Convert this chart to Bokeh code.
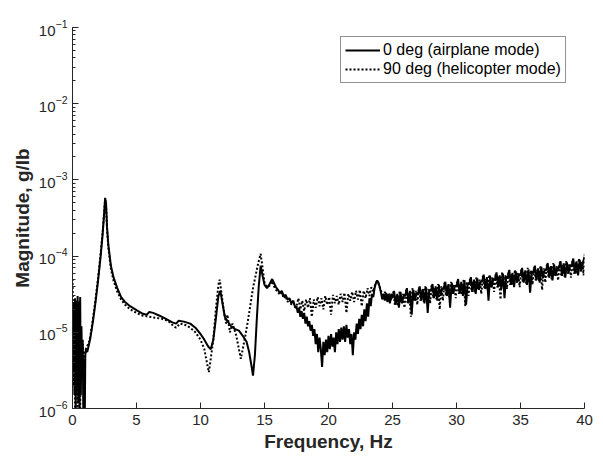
from bokeh.plotting import figure
from bokeh.models import Legend, LegendItem, FixedTicker
from bokeh.embed import file_html
from bokeh.resources import INLINE

# ---------------- data ----------------
# 0 deg (airplane mode), solid
air_f_low = [0.00, 0.05, 0.10, 0.15, 0.20, 0.25, 0.30, 0.35, 0.40, 0.45, 0.50, 0.55, 0.60, 0.65,
             0.70, 0.75, 0.80, 0.85, 0.90, 0.95, 1.00, 1.05, 1.15, 1.25, 1.40, 1.60, 1.80, 2.00,
             2.20, 2.35, 2.45, 2.55, 2.62, 2.70, 2.80, 3.00, 3.20, 3.50, 3.80, 4.10, 4.50, 5.00,
             5.50, 5.80, 6.00, 6.30, 6.80, 7.30, 7.80, 8.10, 8.30, 8.70, 9.20, 9.60, 10.00, 10.30,
             10.60, 10.80, 11.00, 11.20, 11.40, 11.55, 11.70, 11.90, 12.10, 12.40, 12.70, 13.00,
             13.30, 13.60, 13.80, 14.00, 14.10, 14.25, 14.40, 14.55, 14.70, 14.85]
air_m_low = [2.0e-5, 3e-6, 2.5e-5, 1.5e-6, 2.8e-5, 8e-7, 2.6e-5, 2e-6, 3.0e-5, 1.2e-6, 2.5e-5, 5e-7,
             2.9e-5, 1.5e-6, 1.2e-5, 3e-6, 8e-6, 6e-7, 4.5e-6, 5e-7, 5e-6, 6e-6, 5.5e-6, 6.5e-6,
             8.5e-6, 1.4e-5, 2.5e-5, 4.8e-5, 1.0e-4, 1.9e-4, 3.2e-4, 5.8e-4, 5.0e-4, 2.4e-4,
             1.4e-4, 7.5e-5, 5.3e-5, 3.8e-5, 2.9e-5, 2.5e-5, 2.2e-5, 1.95e-5, 1.75e-5, 1.7e-5,
             1.85e-5, 1.8e-5, 1.65e-5, 1.5e-5, 1.35e-5, 1.3e-5, 1.42e-5, 1.38e-5, 1.3e-5, 1.15e-5,
             9.5e-6, 8e-6, 6.5e-6, 6.0e-6, 8e-6, 1.5e-5, 3.0e-5, 3.5e-5, 2.5e-5, 1.6e-5, 1.4e-5,
             1.2e-5, 1.1e-5, 1.05e-5, 9e-6, 7.5e-6, 5.5e-6, 3.5e-6, 2.7e-6, 5e-6, 1.5e-5, 4e-5,
             7.5e-5, 5.5e-5]
air_f_mid = [15.00, 15.20, 15.40, 15.60, 15.75, 15.90, 16.05, 16.20, 16.35, 16.50, 16.65, 16.80,
             16.95, 17.10, 17.25, 17.40, 17.50, 17.60, 17.70, 17.80, 17.90, 18.00, 18.10, 18.20,
             18.30, 18.40, 18.50, 18.60, 18.70, 18.80, 18.90, 19.00, 19.10, 19.20, 19.30, 19.40,
             19.50, 19.60, 19.70, 19.80, 19.90, 20.00, 20.10, 20.20, 20.30, 20.40, 20.50, 20.60,
             20.70, 20.80, 20.90, 21.00, 21.10, 21.20, 21.30, 21.40, 21.50, 21.60, 21.70, 21.80,
             21.90, 22.00, 22.10, 22.20, 22.30, 22.40, 22.50, 22.60, 22.70, 22.80, 22.90, 23.00,
             23.10, 23.20, 23.30, 23.40, 23.50, 23.60, 23.70, 23.80, 23.90, 24.00, 24.10, 24.20,
             24.30, 24.40, 24.50, 24.60, 24.70, 24.80, 24.90]
air_m_mid = [4.2e-5, 3.8e-5, 4.3e-5, 5.0e-5, 4.4e-5, 3.9e-5, 3.6e-5, 3.3e-5, 3.5e-5, 3.0e-5,
             3.1e-5, 2.7e-5, 2.8e-5, 2.4e-5, 2.6e-5, 2.1e-5, 2.2e-5, 1.8e-5, 2.1e-5, 1.6e-5,
             1.9e-5, 1.5e-5, 1.8e-5, 1.3e-5, 1.6e-5, 1.2e-5, 1.4e-5, 1.05e-5, 1.25e-5, 9e-6,
             1.1e-5, 7e-6, 9.5e-6, 5.5e-6, 8.5e-6, 6e-6, 3.5e-6, 7.5e-6, 5e-6, 8e-6, 5.5e-6,
             9e-6, 6e-6, 9.5e-6, 6.5e-6, 8.5e-6, 5.5e-6, 1.0e-5, 7e-6, 1.1e-5, 7.5e-6, 1.15e-5,
             8e-6, 1.2e-5, 7.5e-6, 1.25e-5, 8.5e-6, 1.1e-5, 7e-6, 9.5e-6, 5e-6, 1.0e-5, 8e-6,
             1.3e-5, 9.5e-6, 1.5e-5, 1.1e-5, 1.7e-5, 1.2e-5, 2.0e-5, 1.4e-5, 2.4e-5, 1.6e-5,
             2.8e-5, 2.2e-5, 3.2e-5, 2.9e-5, 3.8e-5, 4.4e-5, 4.8e-5, 4.5e-5, 3.9e-5, 3.3e-5,
             2.7e-5, 3.2e-5, 2.6e-5, 3.3e-5, 2.5e-5, 3.1e-5, 2.4e-5, 3.2e-5]
air_f_high = [25.000, 25.125, 25.250, 25.375, 25.500, 25.625, 25.750, 25.875,
              26.000, 26.125, 26.250, 26.375, 26.500, 26.625, 26.750, 26.875,
              27.000, 27.125, 27.250, 27.375, 27.500, 27.625, 27.750, 27.875,
              28.000, 28.125, 28.250, 28.375, 28.500, 28.625, 28.750, 28.875,
              29.000, 29.125, 29.250, 29.375, 29.500, 29.625, 29.750, 29.875,
              30.000, 30.125, 30.250, 30.375, 30.500, 30.625, 30.750, 30.875,
              31.000, 31.125, 31.250, 31.375, 31.500, 31.625, 31.750, 31.875,
              32.000, 32.125, 32.250, 32.375, 32.500, 32.625, 32.750, 32.875,
              33.000, 33.125, 33.250, 33.375, 33.500, 33.625, 33.750, 33.875,
              34.000, 34.125, 34.250, 34.375, 34.500, 34.625, 34.750, 34.875,
              35.000, 35.125, 35.250, 35.375, 35.500, 35.625, 35.750, 35.875,
              36.000, 36.125, 36.250, 36.375, 36.500, 36.625, 36.750, 36.875,
              37.000, 37.125, 37.250, 37.375, 37.500, 37.625, 37.750, 37.875,
              38.000, 38.125, 38.250, 38.375, 38.500, 38.625, 38.750, 38.875,
              39.000, 39.125, 39.250, 39.375, 39.500, 39.625, 39.750, 39.875,
              40.000]
air_m_high = [2.8e-5, 3.5e-5, 2.3e-5, 3.2e-5, 2.1e-5, 3.4e-5, 2.4e-5, 3.1e-5,
              3.0e-5, 3.8e-5, 2.4e-5, 3.5e-5, 1.7e-5, 3.6e-5, 2.6e-5, 3.3e-5,
              3.2e-5, 4.0e-5, 2.6e-5, 3.7e-5, 2.4e-5, 3.9e-5, 1.8e-5, 3.6e-5,
              3.5e-5, 4.3e-5, 2.8e-5, 4.0e-5, 2.6e-5, 4.2e-5, 3.0e-5, 3.8e-5,
              3.7e-5, 4.6e-5, 3.0e-5, 4.3e-5, 2.1e-5, 4.5e-5, 3.2e-5, 4.1e-5,
              4.0e-5, 5.0e-5, 3.2e-5, 4.6e-5, 3.0e-5, 4.8e-5, 2.3e-5, 4.4e-5,
              4.3e-5, 5.3e-5, 3.4e-5, 4.9e-5, 3.2e-5, 5.1e-5, 3.6e-5, 4.7e-5,
              4.6e-5, 5.7e-5, 3.7e-5, 5.3e-5, 2.6e-5, 5.5e-5, 3.9e-5, 5.0e-5,
              4.9e-5, 6.1e-5, 3.9e-5, 5.6e-5, 3.7e-5, 5.9e-5, 2.8e-5, 5.4e-5,
              5.2e-5, 6.6e-5, 4.2e-5, 6.0e-5, 3.9e-5, 6.3e-5, 4.5e-5, 5.8e-5,
              5.6e-5, 7.0e-5, 4.5e-5, 6.5e-5, 4.2e-5, 6.7e-5, 3.3e-5, 6.2e-5,
              6.0e-5, 7.5e-5, 4.8e-5, 6.9e-5, 4.5e-5, 7.2e-5, 5.1e-5, 6.6e-5,
              6.5e-5, 8.1e-5, 5.2e-5, 7.4e-5, 4.8e-5, 7.8e-5, 5.5e-5, 7.1e-5,
              6.9e-5, 8.6e-5, 5.5e-5, 8.0e-5, 5.2e-5, 8.3e-5, 5.9e-5, 7.6e-5,
              7.4e-5, 9.3e-5, 5.9e-5, 8.5e-5, 5.6e-5, 8.9e-5, 6.3e-5, 8.2e-5,
              9.8e-5]

# 90 deg (helicopter mode), dotted
heli_f_low = [0.00, 0.05, 0.10, 0.15, 0.20, 0.25, 0.30, 0.35, 0.40, 0.45, 0.50, 0.55, 0.60, 0.65,
              0.70, 0.80, 0.90, 1.00, 1.10, 1.25, 1.40, 1.60, 1.80, 2.00, 2.20, 2.35, 2.45, 2.55,
              2.62, 2.70, 2.80, 3.00, 3.20, 3.50, 3.80, 4.10, 4.50, 5.00, 5.50, 6.00, 6.50, 7.00,
              7.50, 7.90, 8.10, 8.40, 8.80, 9.20, 9.60, 10.00, 10.30, 10.50, 10.65, 10.80, 11.00,
              11.20, 11.40, 11.50, 11.65, 11.80, 12.00, 12.10, 12.30, 12.50, 12.80, 13.00, 13.15,
              13.30, 13.50, 13.70, 13.90, 14.10, 14.30, 14.50, 14.70, 14.85]
heli_m_low = [5e-5, 1.5e-5, 2e-6, 1.8e-5, 1e-6, 2.2e-5, 1.5e-6, 2.4e-5, 7e-7, 2.0e-5, 1.6e-6, 2.6e-5,
              8e-7, 1.2e-5, 2.5e-6, 7e-6, 4e-6, 5.5e-6, 6.5e-6, 7e-6, 9e-6, 1.5e-5, 2.7e-5, 5.2e-5,
              1.1e-4, 2.0e-4, 3.4e-4, 5.5e-4, 4.6e-4, 2.2e-4, 1.3e-4, 6.8e-5, 4.8e-5, 3.4e-5,
              2.7e-5, 2.3e-5, 2.0e-5, 1.8e-5, 1.65e-5, 1.6e-5, 1.55e-5, 1.5e-5, 1.4e-5, 1.2e-5,
              1.15e-5, 1.3e-5, 1.25e-5, 1.15e-5, 1.0e-5, 8e-6, 6e-6, 4e-6, 3e-6, 4.5e-6, 8e-6,
              2.0e-5, 4.2e-5, 4.9e-5, 3.2e-5, 2.0e-5, 1.3e-5, 1.7e-5, 1.0e-5, 1.3e-5, 9e-6, 6e-6,
              4.5e-6, 6e-6, 9e-6, 1.4e-5, 2.3e-5, 3.8e-5, 5.5e-5, 8e-5, 1.07e-4, 7e-5]
heli_f_mid = [15.00, 15.20, 15.40, 15.60, 15.75, 15.90, 16.05, 16.20, 16.35, 16.50, 16.65, 16.80,
              16.95, 17.10, 17.25, 17.40, 17.50, 17.65, 17.80, 17.95, 18.10, 18.25, 18.40, 18.55,
              18.70, 18.85, 19.00, 19.15, 19.30, 19.45, 19.60, 19.75, 19.90, 20.05, 20.20, 20.35,
              20.50, 20.65, 20.80, 20.95, 21.10, 21.25, 21.40, 21.55, 21.70, 21.85, 22.00, 22.15,
              22.30, 22.45, 22.60, 22.75, 22.90, 23.05, 23.20, 23.35, 23.50, 23.65, 23.80, 23.95,
              24.10, 24.25, 24.40, 24.55, 24.70, 24.85]
heli_m_mid = [4.5e-5, 3.9e-5, 4.1e-5, 4.7e-5, 4.0e-5, 3.6e-5, 3.4e-5, 3.1e-5, 3.3e-5, 2.8e-5,
              3.0e-5, 2.5e-5, 2.7e-5, 2.3e-5, 2.6e-5, 2.1e-5, 2.2e-5, 2.8e-5, 2.0e-5, 2.6e-5,
              1.9e-5, 2.7e-5, 2.1e-5, 2.8e-5, 1.6e-5, 2.7e-5, 2.1e-5, 2.9e-5, 2.2e-5, 2.8e-5,
              2.0e-5, 3.0e-5, 2.3e-5, 2.9e-5, 1.7e-5, 3.1e-5, 2.4e-5, 3.0e-5, 2.3e-5, 3.2e-5,
              2.5e-5, 3.3e-5, 1.8e-5, 3.2e-5, 2.6e-5, 3.4e-5, 2.5e-5, 3.5e-5, 2.7e-5, 3.6e-5,
              2.2e-5, 3.5e-5, 2.8e-5, 3.8e-5, 3.0e-5, 3.9e-5, 3.4e-5, 4.3e-5, 4.7e-5, 4.2e-5,
              3.5e-5, 2.9e-5, 3.4e-5, 2.7e-5, 3.3e-5, 2.6e-5]
heli_f_high = [25.0625, 25.1875, 25.3125, 25.4375, 25.5625, 25.6875, 25.8125, 25.9375,
               26.0625, 26.1875, 26.3125, 26.4375, 26.5625, 26.6875, 26.8125, 26.9375,
               27.0625, 27.1875, 27.3125, 27.4375, 27.5625, 27.6875, 27.8125, 27.9375,
               28.0625, 28.1875, 28.3125, 28.4375, 28.5625, 28.6875, 28.8125, 28.9375,
               29.0625, 29.1875, 29.3125, 29.4375, 29.5625, 29.6875, 29.8125, 29.9375,
               30.0625, 30.1875, 30.3125, 30.4375, 30.5625, 30.6875, 30.8125, 30.9375,
               31.0625, 31.1875, 31.3125, 31.4375, 31.5625, 31.6875, 31.8125, 31.9375,
               32.0625, 32.1875, 32.3125, 32.4375, 32.5625, 32.6875, 32.8125, 32.9375,
               33.0625, 33.1875, 33.3125, 33.4375, 33.5625, 33.6875, 33.8125, 33.9375,
               34.0625, 34.1875, 34.3125, 34.4375, 34.5625, 34.6875, 34.8125, 34.9375,
               35.0625, 35.1875, 35.3125, 35.4375, 35.5625, 35.6875, 35.8125, 35.9375,
               36.0625, 36.1875, 36.3125, 36.4375, 36.5625, 36.6875, 36.8125, 36.9375,
               37.0625, 37.1875, 37.3125, 37.4375, 37.5625, 37.6875, 37.8125, 37.9375,
               38.0625, 38.1875, 38.3125, 38.4375, 38.5625, 38.6875, 38.8125, 38.9375,
               39.0625, 39.1875, 39.3125, 39.4375, 39.5625, 39.6875, 39.8125, 39.9375,
               40.0000]
heli_m_high = [3.4e-5, 2.3e-5, 3.1e-5, 2.2e-5, 3.5e-5, 2.4e-5, 3.2e-5, 2.1e-5,
               3.6e-5, 2.4e-5, 3.3e-5, 1.6e-5, 3.8e-5, 2.6e-5, 3.5e-5, 2.3e-5,
               3.9e-5, 2.6e-5, 3.6e-5, 2.5e-5, 4.0e-5, 2.8e-5, 3.7e-5, 2.4e-5,
               4.2e-5, 2.8e-5, 3.8e-5, 2.7e-5, 4.3e-5, 2.0e-5, 4.0e-5, 2.6e-5,
               4.5e-5, 3.0e-5, 4.1e-5, 2.9e-5, 4.6e-5, 3.2e-5, 4.3e-5, 2.8e-5,
               4.8e-5, 3.2e-5, 4.4e-5, 3.1e-5, 5.0e-5, 2.2e-5, 4.6e-5, 3.0e-5,
               5.1e-5, 3.4e-5, 4.7e-5, 3.3e-5, 5.3e-5, 3.6e-5, 4.9e-5, 3.2e-5,
               5.5e-5, 3.7e-5, 5.0e-5, 3.6e-5, 5.7e-5, 3.9e-5, 5.3e-5, 3.4e-5,
               5.9e-5, 3.9e-5, 5.4e-5, 2.7e-5, 6.1e-5, 4.2e-5, 5.6e-5, 3.7e-5,
               6.3e-5, 4.2e-5, 5.8e-5, 4.1e-5, 6.6e-5, 4.5e-5, 6.0e-5, 3.9e-5,
               6.7e-5, 4.5e-5, 6.2e-5, 4.4e-5, 7.0e-5, 4.8e-5, 6.5e-5, 4.2e-5,
               7.2e-5, 4.8e-5, 6.6e-5, 4.7e-5, 7.5e-5, 3.6e-5, 6.9e-5, 4.5e-5,
               7.8e-5, 5.2e-5, 7.1e-5, 5.0e-5, 8.1e-5, 5.5e-5, 7.4e-5, 4.8e-5,
               8.3e-5, 5.5e-5, 7.6e-5, 5.4e-5, 8.6e-5, 5.9e-5, 8.0e-5, 5.2e-5,
               8.9e-5, 5.9e-5, 8.2e-5, 5.8e-5, 9.3e-5, 6.3e-5, 8.5e-5, 5.6e-5,
               1.05e-4]

x_ticks = [0, 5, 10, 15, 20, 25, 30, 35, 40]
series_labels = ["0 deg (airplane mode)", "90 deg (helicopter mode)"]
x_label = "Frequency, Hz"
y_label = "Magnitude, g/lb"

freq_air = air_f_low + air_f_mid + air_f_high
mag_air = air_m_low + air_m_mid + air_m_high
freq_heli = heli_f_low + heli_f_mid + heli_f_high
mag_heli = heli_m_low + heli_m_mid + heli_m_high

FONT = "Liberation Sans"
AXC = "#262626"

p = figure(width=603, height=458, y_axis_type="log",
           x_range=(0, 40), y_range=(1e-6, 1e-1),
           output_backend="svg", toolbar_location=None,
           min_border_left=72, min_border_right=19, min_border_top=27, min_border_bottom=50)
p.outline_line_color = None
p.grid.visible = False
p.background_fill_color = "white"
p.border_fill_color = "white"

r1 = p.line(freq_air, mag_air, line_color="black", line_width=2)
r2 = p.line(freq_heli, mag_heli, line_color="black", line_width=2, line_dash="2 2")

p.xaxis.ticker = FixedTicker(ticks=x_ticks)
for ax in (p.xaxis[0], p.yaxis[0]):
    ax.axis_line_color = AXC
    ax.axis_line_width = 1
    ax.major_tick_line_color = AXC
    ax.major_tick_in = 6
    ax.major_tick_out = 0
    ax.minor_tick_in = 3
    ax.minor_tick_out = 0
    ax.minor_tick_line_color = AXC
    ax.major_label_text_font = FONT
    ax.major_label_text_font_size = "15px"
    ax.major_label_text_color = AXC
    ax.axis_label_text_font = FONT
    ax.axis_label_text_font_size = "19px"
    ax.axis_label_text_font_style = "bold"
    ax.axis_label_text_color = AXC
p.xaxis.minor_tick_line_color = None
p.xaxis.axis_label = x_label
p.yaxis.axis_label = y_label
p.xaxis.major_label_standoff = 6
p.yaxis.major_label_standoff = 5
p.xaxis.axis_label_standoff = 3
p.yaxis.axis_label_standoff = 3

legend = Legend(items=[LegendItem(label=series_labels[0], renderers=[r1]),
                       LegendItem(label=series_labels[1], renderers=[r2])],
                location=(268, 325))
legend.label_text_font = FONT
legend.label_text_font_size = "16px"
legend.label_text_color = "black"
legend.glyph_width = 35
legend.glyph_height = 18
legend.label_height = 18
legend.label_standoff = 3
legend.spacing = 1
legend.padding = 4
legend.margin = 0
legend.border_line_color = AXC
legend.border_line_width = 1
legend.background_fill_alpha = 1.0
p.add_layout(legend, "center")

open("out.html", "w").write(file_html(p, INLINE))
